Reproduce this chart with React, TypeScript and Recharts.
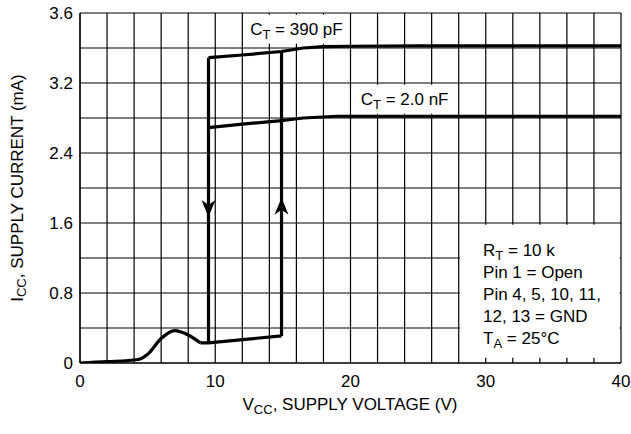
import { LineChart, Line, XAxis, YAxis, CartesianGrid, ReferenceArea, Scatter } from "recharts";

const FONT = "'Liberation Sans', Arial, sans-serif";

// grid + tick values
const xGrid = [0, 2, 4, 6, 8, 10, 12, 14, 16, 18, 20, 22, 24, 26, 28, 30, 32, 34, 36, 38, 40];
const yGrid = [0, 0.4, 0.8, 1.2, 1.6, 2.0, 2.4, 2.8, 3.2, 3.6, 4.0];
const xTicks = [0, 10, 20, 30, 40];
const yTicks = [0, 0.8, 1.6, 2.4, 3.2, 4.0];
const yTickLabels = ["0", "0.8", "1.6", "2.4", "3.2", "3.6"]; // as printed on the sheet

// supply current curves (v = VCC volts, i = ICC mA)
const startup = [
  { v: 0, i: 0 }, { v: 2, i: 0.015 }, { v: 4.3, i: 0.04 }, { v: 5, i: 0.1 },
  { v: 6, i: 0.28 }, { v: 7, i: 0.37 }, { v: 8, i: 0.32 }, { v: 8.9, i: 0.23 },
];
const offState = [{ v: 8.9, i: 0.23 }, { v: 9.5, i: 0.23 }, { v: 14.9, i: 0.31 }];
const turnOn = [{ v: 14.9, i: 0.31 }, { v: 14.9, i: 3.56 }];
const turnOff = [{ v: 9.5, i: 3.49 }, { v: 9.5, i: 0.23 }];
const ct390 = [
  { v: 9.5, i: 3.49 }, { v: 12, i: 3.52 }, { v: 14.9, i: 3.56 }, { v: 16.5, i: 3.6 },
  { v: 18, i: 3.615 }, { v: 20, i: 3.62 }, { v: 25, i: 3.625 }, { v: 40, i: 3.625 },
];
const ct2n = [
  { v: 9.5, i: 2.69 }, { v: 12, i: 2.73 }, { v: 14.9, i: 2.77 }, { v: 16.5, i: 2.8 },
  { v: 19, i: 2.82 }, { v: 25, i: 2.82 }, { v: 40, i: 2.82 },
];
const arrows = [
  { v: 9.5, i: 1.67, dir: "down" },
  { v: 14.9, i: 1.89, dir: "up" },
];
const notes = ["Pin 1 = Open", "Pin 4, 5, 10, 11,", "12, 13 = GND"];

const txt = { fontFamily: FONT, fontSize: 17, fill: "#000" };

function Arrow(props: any) {
  const { cx, cy, payload } = props;
  const d = payload.dir === "up" ? 1 : -1;
  // tip at (cx, cy)
  const path = `M${cx},${cy} L${cx - 7},${cy + d * 17} L${cx},${cy + d * 12} L${cx + 7},${cy + d * 17} Z`;
  return <path d={path} fill="#000" />;
}

function Sub({ main, sub, rest }: { main: string; sub: string; rest: string }) {
  return (
    <>
      <tspan>{main}</tspan>
      <tspan dy={4} fontSize={13}>{sub}</tspan>
      <tspan dy={-4}>{rest}</tspan>
    </>
  );
}

const curveLabel = (main: string, sub: string, rest: string) => (p: any) => {
  const { x, y, width, height } = p.viewBox;
  return (
    <text x={x + width / 2} y={y + height / 2 + 6} textAnchor="middle" style={txt}>
      <Sub main={main} sub={sub} rest={rest} />
    </text>
  );
};

const noteLabel = (p: any) => {
  const { x, y } = p.viewBox;
  const lx = x + 23;
  return (
    <g>
      <text x={lx} y={y + 31} style={txt}><Sub main="R" sub="T" rest=" = 10 k" /></text>
      {notes.map((n, k) => (
        <text key={n} x={lx} y={y + 53 + k * 22} style={txt}>{n}</text>
      ))}
      <text x={lx} y={y + 119} style={txt}><Sub main="T" sub="A" rest=" = 25°C" /></text>
    </g>
  );
};

const yTitle = () => {
  const cy = 188;
  const cx = 17;
  return (
    <text x={cx} y={cy} transform={`rotate(-90 ${cx} ${cy})`} textAnchor="middle" dominantBaseline="central" style={txt}>
      <Sub main="I" sub="CC" rest=", SUPPLY CURRENT (mA)" />
    </text>
  );
};

const xTitle = () => (
  <text x={350} y={410} textAnchor="middle" style={txt}>
    <Sub main="V" sub="CC" rest=", SUPPLY VOLTAGE (V)" />
  </text>
);

export default function App() {
  const lineProps = {
    dataKey: "i",
    stroke: "#000",
    strokeWidth: 3.2,
    dot: false,
    activeDot: false,
    isAnimationActive: false,
    type: "linear" as const,
  };
  return (
    <div style={{ width: 631, height: 434, background: "#fff" }}>
      <style>{"body{margin:0}"}</style>
      <LineChart width={631} height={434} margin={{ top: 13, right: 10, left: 0, bottom: 0 }}>
        <CartesianGrid
          stroke="#000"
          strokeWidth={1.2}
          horizontalValues={yGrid}
          verticalValues={xGrid}
        />
        <XAxis
          type="number"
          dataKey="v"
          domain={[0, 40]}
          ticks={xTicks}
          height={71}
          tickSize={0}
          tickMargin={12}
          axisLine={{ stroke: "#000", strokeWidth: 1.2 }}
          tick={{ ...txt }}
          allowDataOverflow
          label={{ content: xTitle }}
        />
        <YAxis
          type="number"
          dataKey="i"
          domain={[0, 4]}
          ticks={yTicks}
          width={80}
          tickSize={0}
          tickMargin={7}
          axisLine={{ stroke: "#000", strokeWidth: 1.2 }}
          tick={{ ...txt }}
          tickFormatter={(val: number) => yTickLabels[yTicks.indexOf(val)] ?? ""}
          allowDataOverflow
          label={{ content: yTitle }}
        />
        <ReferenceArea x1={12.1} x2={19.9} y1={3.65} y2={3.98} fill="#fff" fillOpacity={1} stroke="none"
          label={{ content: curveLabel("C", "T", " = 390 pF") }} />
        <ReferenceArea x1={20.1} x2={27.9} y1={2.85} y2={3.18} fill="#fff" fillOpacity={1} stroke="none"
          label={{ content: curveLabel("C", "T", " = 2.0 nF") }} />
        <ReferenceArea x1={28.1} x2={39.9} y1={0.06} y2={1.58} fill="#fff" fillOpacity={1} stroke="none"
          label={{ content: noteLabel }} />
        <Line data={startup} {...lineProps} type="monotone" />
        <Line data={offState} {...lineProps} />
        <Line data={turnOn} {...lineProps} />
        <Line data={turnOff} {...lineProps} />
        <Line data={ct390} {...lineProps} />
        <Line data={ct2n} {...lineProps} />
        <Scatter data={arrows} dataKey="i" shape={Arrow} isAnimationActive={false} />
      </LineChart>
    </div>
  );
}
